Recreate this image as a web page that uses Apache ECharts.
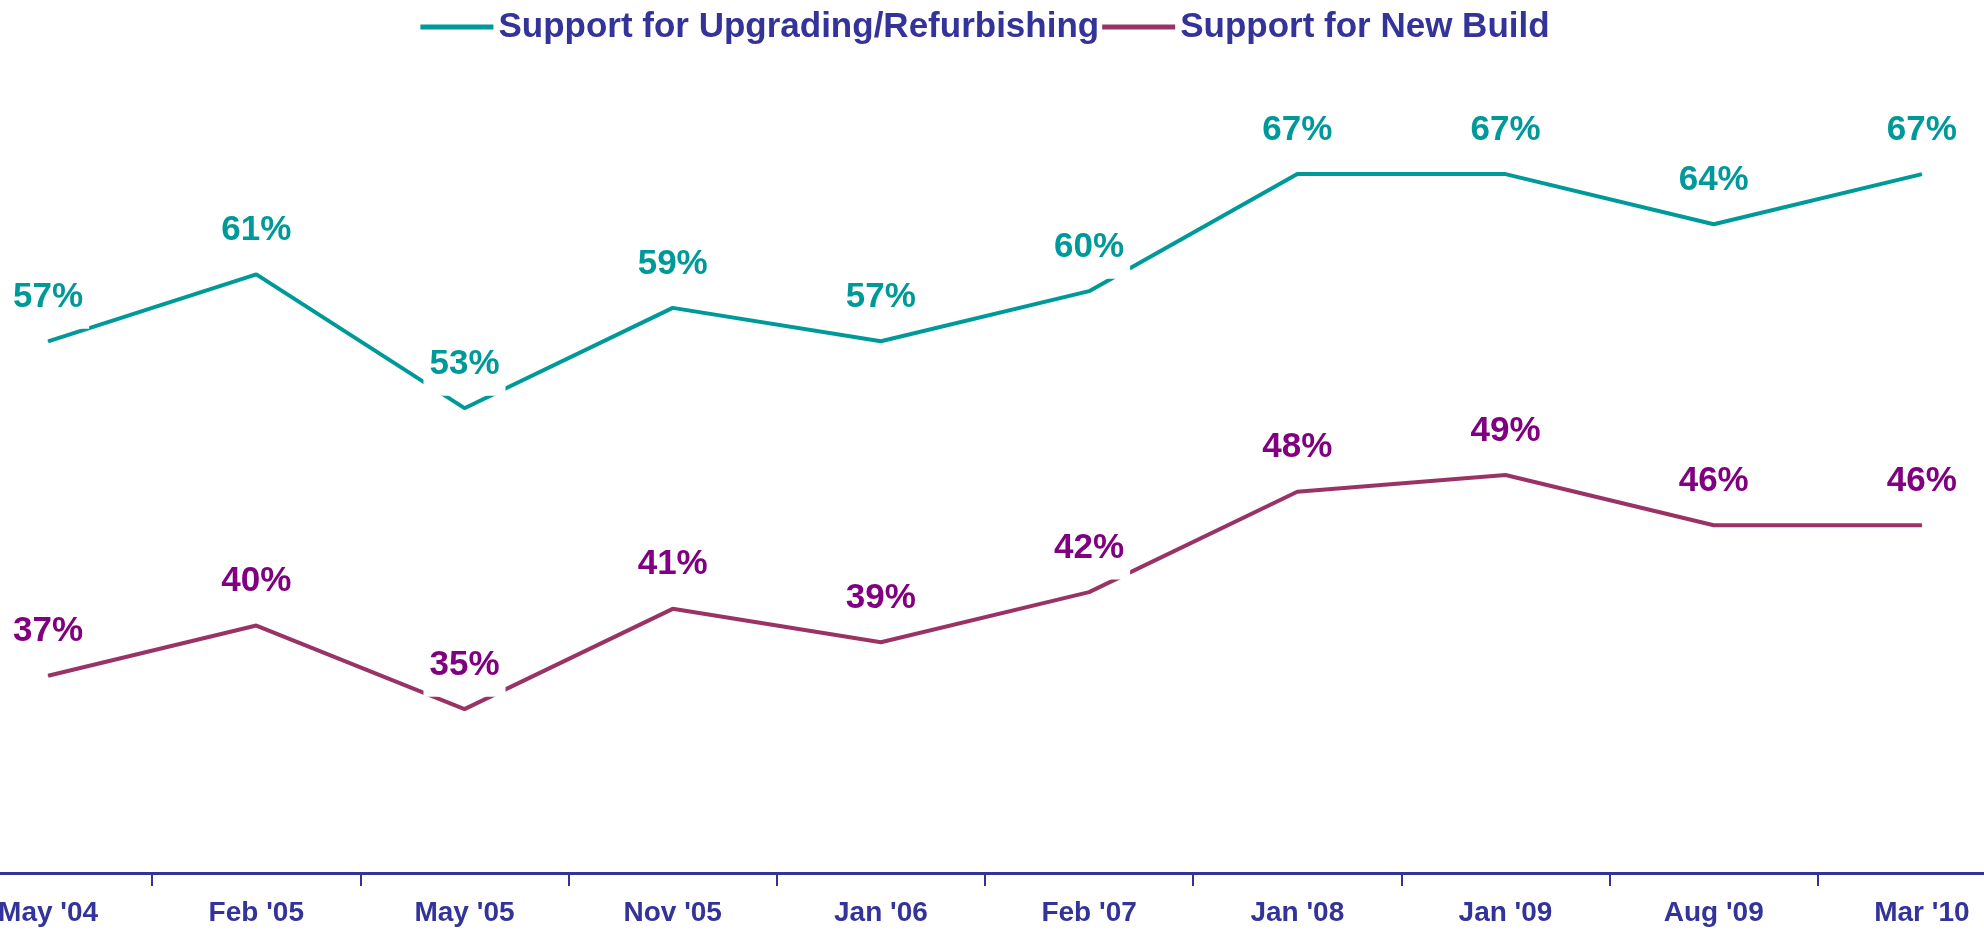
<!DOCTYPE html>
<html>
<head>
<meta charset="utf-8">
<script src="https://cdn.jsdelivr.net/npm/echarts@6/dist/echarts.min.js"></script>
<style>
  html, body { margin: 0; padding: 0; background: #fff; overflow: hidden; }
  /* plot runs past both edges of the picture, like the original slide crop */
  #chart { width: 2082px; height: 936px; margin-left: -56px; }
</style>
</head>
<body>
<div id="chart"></div>
<script>
// survey waves
const waves = ["May '04", "Feb '05", "May '05", "Nov '05", "Jan '06", "Feb '07", "Jan '08", "Jan '09", "Aug '09", "Mar '10"];
// % support
const upgrading = [57, 61, 53, 59, 57, 60, 67, 67, 64, 67];
const newBuild = [37, 40, 35, 41, 39, 42, 48, 49, 46, 46];

const FONT = "'Liberation Sans', Arial, sans-serif";
const NAVY = "#333399";

function labelOpt(color) {
  return {
    show: true,
    position: "top",
    distance: 12,
    formatter: (p) => p.value + "%",
    color,
    fontFamily: FONT,
    fontWeight: "bold",
    fontSize: 35,
    backgroundColor: "#fff",
    padding: [0, 6, 14, 6],
  };
}

const chart = echarts.init(document.getElementById("chart"));
chart.setOption({
  animation: false,
  backgroundColor: "#fff",
  legend: {
    top: 1,
    left: "center",
    icon: "rect",
    itemWidth: 73,
    itemHeight: 5,
    itemGap: 3,
    textStyle: {
      color: NAVY,
      fontFamily: FONT,
      fontWeight: "bold",
      fontSize: 35,
      lineHeight: 42,
    },
  },
  grid: { left: 0, right: 0, top: 37, bottom: 63 },
  xAxis: {
    type: "category",
    data: waves,
    axisLine: { show: true, lineStyle: { color: NAVY, width: 3 } },
    axisTick: { show: true, length: 13, lineStyle: { color: NAVY, width: 2 } },
    axisLabel: {
      color: NAVY,
      fontFamily: FONT,
      fontWeight: "bold",
      fontSize: 28,
      margin: 26,
      interval: 0,
    },
  },
  yAxis: {
    type: "value",
    min: 25.2,
    max: 75.2,
    show: false,
    splitLine: { show: false },
  },
  series: [
    {
      name: "Support for Upgrading/Refurbishing",
      type: "line",
      data: upgrading,
      symbol: "circle",
      symbolSize: 1,
      color: "#009999",
      lineStyle: { width: 4, color: "#009999" },
      label: labelOpt("#009999"),
      z: 3,
    },
    {
      name: "Support for New Build",
      type: "line",
      data: newBuild,
      symbol: "circle",
      symbolSize: 1,
      color: "#993366",
      lineStyle: { width: 4, color: "#993366" },
      label: labelOpt("#800080"),
      z: 2,
    },
  ],
});
</script>
</body>
</html>
